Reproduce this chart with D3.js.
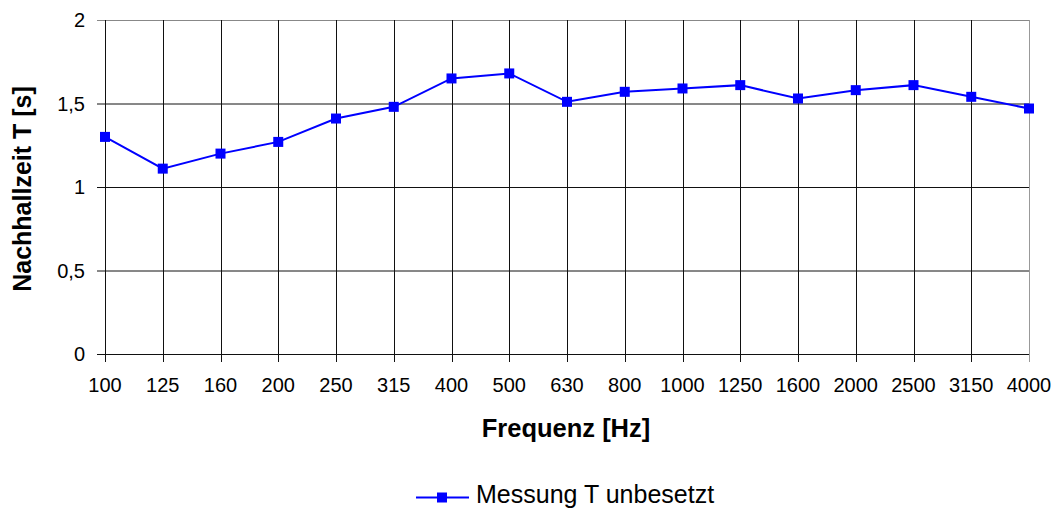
<!DOCTYPE html>
<html>
<head>
<meta charset="utf-8">
<script src="https://cdn.jsdelivr.net/npm/d3@7"></script>
<style>
  body { margin: 0; background: #fff; }
  text { font-family: "Liberation Sans", Arial, sans-serif; fill: #000; }
</style>
</head>
<body>
<script>
// Nachhallzeit chart

var categories = ["100", "125", "160", "200", "250", "315", "400", "500", "630",
                  "800", "1000", "1250", "1600", "2000", "2500", "3150", "4000"];
var values = [1.30, 1.11, 1.20, 1.27, 1.41, 1.48, 1.65, 1.68, 1.51,
              1.57, 1.59, 1.61, 1.53, 1.58, 1.61, 1.54, 1.47];
var yTicks = [0, 0.5, 1, 1.5, 2];
var seriesName = "Messung T unbesetzt";

function show_chart(width, height) {
    var svg = d3.select("body").append("svg")
                .attr("width", width)
                .attr("height", height);

    var left = 105, right = 1029, top = 20, bottom = 354;

    var x = d3.scalePoint()
              .domain(categories)
              .range([left, right]);

    var y = d3.scaleLinear()
              .domain([0, 2])
              .range([bottom, top]);

    // horizontal grid
    svg.append("g").selectAll("line")
        .data(yTicks)
        .enter().append("line")
        .attr("x1", left - 8).attr("x2", right)
        .attr("y1", function(d) { return y(d) + 0.5; })
        .attr("y2", function(d) { return y(d) + 0.5; })
        .attr("stroke", function(d) { return d === 2 ? "#888" : "#111"; })
        .attr("stroke-width", 1);

    // vertical grid
    svg.append("g").selectAll("line")
        .data(categories)
        .enter().append("line")
        .attr("x1", function(d) { return Math.round(x(d)) + 0.5; })
        .attr("x2", function(d) { return Math.round(x(d)) + 0.5; })
        .attr("y1", top)
        .attr("y2", bottom + 8)
        .attr("stroke", function(d, i) { return i === categories.length - 1 ? "#999" : "#111"; })
        .attr("stroke-width", 1);

    // y labels
    svg.append("g").selectAll("text")
        .data(yTicks)
        .enter().append("text")
        .attr("x", 85)
        .attr("y", function(d) { return y(d) + 7; })
        .attr("text-anchor", "end")
        .attr("font-size", "20px")
        .text(function(d) { return String(d).replace(".", ","); });

    // x labels
    svg.append("g").selectAll("text")
        .data(categories)
        .enter().append("text")
        .attr("x", function(d) { return x(d); })
        .attr("y", 392)
        .attr("text-anchor", "middle")
        .attr("font-size", "20px")
        .text(function(d) { return d; });

    // axis titles
    svg.append("text")
        .attr("x", 566).attr("y", 437)
        .attr("text-anchor", "middle")
        .attr("font-size", "25.5px")
        .attr("font-weight", "bold")
        .text("Frequenz [Hz]");

    svg.append("text")
        .attr("transform", "translate(31,189) rotate(-90)")
        .attr("text-anchor", "middle")
        .attr("font-size", "25px")
        .attr("font-weight", "bold")
        .text("Nachhallzeit T [s]");

    // series
    var line = d3.line()
                 .x(function(d, i) { return x(categories[i]); })
                 .y(function(d) { return y(d); });

    svg.append("path")
        .datum(values)
        .attr("d", line)
        .attr("fill", "none")
        .attr("stroke", "#0000ff")
        .attr("stroke-width", 2);

    svg.append("g").selectAll("rect")
        .data(values)
        .enter().append("rect")
        .attr("x", function(d, i) { return x(categories[i]) - 5; })
        .attr("y", function(d) { return y(d) - 5; })
        .attr("width", 10)
        .attr("height", 10)
        .attr("fill", "#0000ff");

    // legend
    svg.append("line")
        .attr("x1", 416).attr("x2", 469)
        .attr("y1", 497.5).attr("y2", 497.5)
        .attr("stroke", "#0000ff").attr("stroke-width", 2);
    svg.append("rect")
        .attr("x", 437).attr("y", 492.5)
        .attr("width", 10).attr("height", 10)
        .attr("fill", "#0000ff");
    svg.append("text")
        .attr("x", 476).attr("y", 503)
        .attr("font-size", "25px")
        .text(seriesName);
}

var width = 1058;
var height = 511;

document.addEventListener("DOMContentLoaded", function() { show_chart(width, height); });
</script>
</body>
</html>
